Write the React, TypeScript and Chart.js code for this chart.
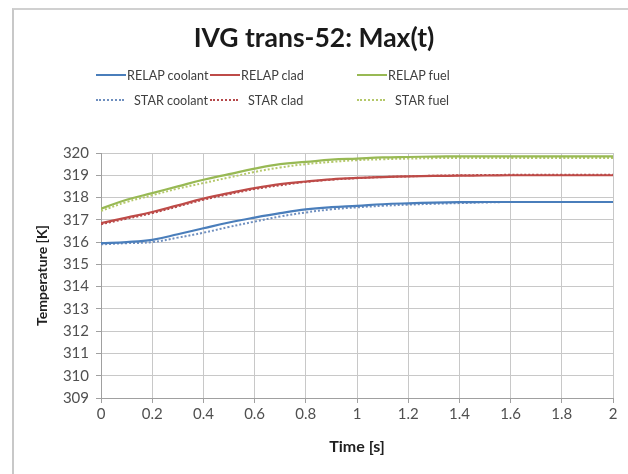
import React, { useEffect, useRef } from "react";
import { Chart, registerables } from "chart.js";
Chart.register(...registerables);

const titleText = "IVG trans-52: Max(t)";
const xTitle = "Time [s]";
const yTitle = "Temperature [K]";
const time = [0, 0.1, 0.2, 0.3, 0.4, 0.5, 0.6, 0.7, 0.8, 0.9, 1.0, 1.1, 1.2, 1.3, 1.4, 1.5, 1.6, 1.7, 1.8, 1.9, 2.0];
const relapCoolant = [315.95, 316.0, 316.1, 316.35, 316.62, 316.88, 317.1, 317.3, 317.47, 317.57, 317.63, 317.7, 317.74, 317.77, 317.79, 317.8, 317.8, 317.8, 317.8, 317.8, 317.8];
const relapClad = [316.85, 317.1, 317.35, 317.65, 317.95, 318.2, 318.42, 318.6, 318.72, 318.82, 318.88, 318.92, 318.95, 318.97, 318.98, 318.99, 319.0, 319.0, 319.0, 319.0, 319.0];
const relapFuel = [317.5, 317.9, 318.2, 318.5, 318.8, 319.05, 319.3, 319.5, 319.6, 319.7, 319.75, 319.8, 319.82, 319.84, 319.85, 319.85, 319.85, 319.85, 319.85, 319.85, 319.85];
const starCoolant = [315.9, 315.95, 316.0, 316.2, 316.42, 316.68, 316.92, 317.15, 317.33, 317.47, 317.56, 317.63, 317.68, 317.72, 317.75, 317.78, 317.8, 317.8, 317.8, 317.8, 317.8];
const starClad = [316.8, 317.05, 317.3, 317.6, 317.9, 318.15, 318.38, 318.55, 318.7, 318.8, 318.87, 318.92, 318.95, 318.98, 319.0, 319.01, 319.02, 319.02, 319.02, 319.02, 319.02];
const starFuel = [317.4, 317.8, 318.1, 318.4, 318.65, 318.9, 319.15, 319.35, 319.5, 319.6, 319.68, 319.72, 319.75, 319.77, 319.78, 319.78, 319.78, 319.78, 319.78, 319.78, 319.78];
const xTicks = [0, 0.2, 0.4, 0.6, 0.8, 1, 1.2, 1.4, 1.6, 1.8, 2];
const xTickLabels = ["0", "0.2", "0.4", "0.6", "0.8", "1", "1.2", "1.4", "1.6", "1.8", "2"];
const yMin = 309;
const yMax = 320;

const seriesNames = ["RELAP coolant", "RELAP clad", "RELAP fuel", "STAR coolant", "STAR clad", "STAR fuel"];
const seriesValues = [relapCoolant, relapClad, relapFuel, starCoolant, starClad, starFuel];
const seriesColors = ["#4A7EBB", "#BE4B48", "#98B954", "#6F8FBF", "#B5484A", "#B4C86A"];
const seriesDashed = [false, false, false, true, true, true];

const FONT = "Lato, 'Open Sans', sans-serif";

export default function App() {
  const ref = useRef<HTMLCanvasElement | null>(null);
  useEffect(() => {
    if (!ref.current) return;
    const chart = new Chart(ref.current, {
      type: "line",
      data: {
        datasets: seriesNames.map((name, i) => ({
          label: name,
          data: time.map((t, j) => ({ x: t, y: seriesValues[i][j] })),
          borderColor: seriesColors[i],
          backgroundColor: seriesColors[i],
          borderWidth: seriesDashed[i] ? 2 : 2.2,
          borderDash: seriesDashed[i] ? [2, 2] : [],
          pointRadius: 0,
          tension: 0.4,
          fill: false,
        })),
      },
      options: {
        animation: false,
        responsive: false,
        layout: { padding: { top: 153, left: 30, right: 15, bottom: 14 } },
        plugins: { legend: { display: false }, title: { display: false }, tooltip: { enabled: false } },
        scales: {
          x: {
            type: "linear",
            min: 0,
            max: 2,
            afterBuildTicks: (axis: any) => {
              axis.ticks = xTicks.map((v) => ({ value: v }));
            },
            afterFit: (axis: any) => {
              axis.height = 62;
            },
            ticks: {
              callback: (_v: any, i: number) => xTickLabels[i],
              color: "#505050",
              font: { family: FONT, size: 15 },
              maxRotation: 0,
              padding: 2,
            },
            grid: { color: "#C8C8C8", lineWidth: 1, tickLength: 5, tickColor: "#A0A0A0" },
            border: { color: "#A0A0A0" },
            title: { display: true, text: xTitle, color: "#202020", font: { family: FONT, size: 16, weight: "bold" } },
          },
          y: {
            min: yMin,
            max: yMax,
            afterFit: (axis: any) => {
              axis.width = 71;
            },
            ticks: { stepSize: 1, color: "#505050", font: { family: FONT, size: 15 }, padding: 7 },
            grid: { color: "#C8C8C8", lineWidth: 1, tickLength: 5, tickColor: "#A0A0A0" },
            border: { color: "#A0A0A0" },
            title: { display: true, text: yTitle, color: "#202020", font: { family: FONT, size: 14, weight: "bold" } },
          },
        },
      },
    });
    return () => chart.destroy();
  }, []);

  const legendItem = (i: number) => (
    <div key={i} style={{ display: "flex", alignItems: "center", fontFamily: FONT, fontSize: 12.6, color: "#404040", whiteSpace: "nowrap", height: 18 }}>
      <span
        style={{
          display: "inline-block",
          width: seriesDashed[i] ? 28 : 30,
          marginRight: seriesDashed[i] ? 10 : 1,
          borderTop: seriesDashed[i] ? `2px dotted ${seriesColors[i]}` : `2px solid ${seriesColors[i]}`,
        }}
      />
      {seriesNames[i]}
    </div>
  );

  return (
    <div style={{ position: "fixed", left: 0, top: 0, width: 628, height: 474, background: "#fff" }}>
      <div style={{ position: "absolute", left: 12, top: 8, width: 616, height: 466, borderLeft: "2px solid #C8C8C8", borderTop: "2px solid #D0D0D0" }} />
      <canvas ref={ref} width={628} height={474} style={{ position: "absolute", left: 0, top: 0 }} />
      <div style={{ position: "absolute", left: 0, top: 21, width: 628, textAlign: "center", fontFamily: FONT, fontWeight: "bold", fontSize: 26.5, color: "#1a1a1a" }}>
        {titleText}
      </div>
      <div style={{ position: "absolute", left: 96, top: 66, display: "grid", gridTemplateColumns: "114px 147px auto", rowGap: 7 }}>
        {[0, 1, 2, 3, 4, 5].map((i) => legendItem(i))}
      </div>
    </div>
  );
}
